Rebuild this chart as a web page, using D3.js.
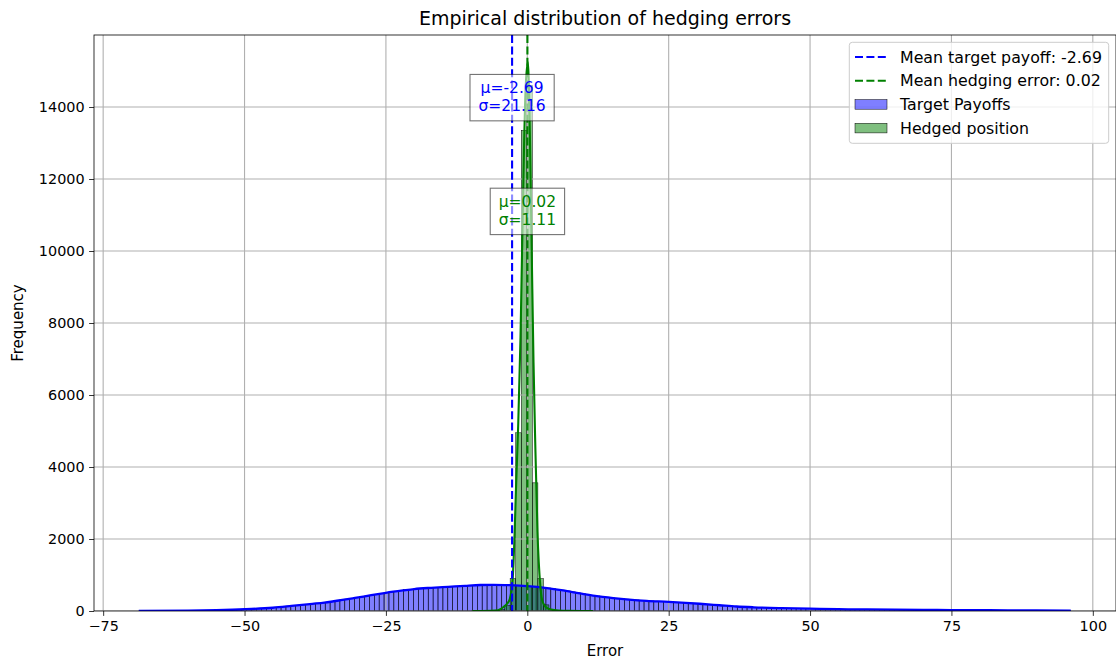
<!DOCTYPE html>
<html>
<head>
<meta charset="utf-8">
<script src="https://cdn.jsdelivr.net/npm/d3@7"></script>
<style>
  body { margin: 0; background: #fff; }
  svg { display: block; }
  text { font-family: "DejaVu Sans", sans-serif; }
</style>
</head>
<body>
<svg id="chart" width="1116" height="663"></svg>
<script>
// ---- data ----
const xTicks = [-75, -50, -25, 0, 25, 50, 75, 100];
const yTicks = [0, 2000, 4000, 6000, 8000, 10000, 12000, 14000];

// Target payoff histogram (equal-width bins starting at blueBinStart)
const blueBinStart = -68.7;
const blueBinWidth = 0.8674;
const blueCounts = [
  2, 1, 3, 2, 4, 3, 5, 6, 7, 9,
  10, 12, 13, 16, 18, 21, 24, 28, 32, 37,
  42, 48, 54, 60, 67, 75, 84, 93, 104, 114,
  135, 145, 158, 170, 183, 198, 212, 226, 241, 258,
  292, 310, 330, 350, 370, 392, 414, 436, 458, 480,
  505, 527, 546, 563, 600, 598, 612, 624, 645, 643,
  650, 656, 662, 668, 676, 684, 692, 700, 708, 715,
  722, 726, 728, 727, 724, 719, 713, 706, 698, 690,
  680, 668, 654, 638, 620, 600, 578, 556, 530, 505,
  482, 458, 436, 417, 400, 385, 368, 354, 341, 329,
  318, 308, 298, 289, 281, 274, 267, 260, 252, 244,
  236, 227, 218, 208, 198, 188, 177, 166, 155, 144,
  134, 125, 117, 110, 104, 99, 94, 90, 86, 83,
  80, 77, 74, 71, 68, 65, 62, 60, 58, 56,
  54, 52, 50, 48, 46, 45, 43, 42, 41, 40,
  38, 37, 36, 35, 34, 33, 33, 32, 31, 30,
  30, 29, 28, 28, 27, 26, 26, 25, 25, 24,
  23, 23, 22, 22, 21, 21, 20, 20, 19, 19,
  18, 18, 17, 17, 16, 16, 15, 15, 14, 14
];

// Hedged position histogram
const greenBinStart = -9.89;
const greenBinWidth = 0.98;
const greenCounts = [
  1, 2, 3, 6, 15, 40, 150, 900, 4950, 13350, 14600,
  3560, 900, 170, 45, 15, 7, 4, 3, 2, 1, 1
];

// Density curves, scaled to counts: [error, frequency]
const blueKde = [
  [-68.7, 3], [-60, 12], [-55, 25], [-50, 48], [-45, 90], [-41.7, 140],
  [-38, 200], [-35.9, 235], [-33, 300], [-31.2, 345], [-29, 400],
  [-27.6, 440], [-25, 505], [-22, 570], [-20, 610], [-17, 645],
  [-14, 672], [-11, 700], [-8.3, 722], [-6, 728], [-3, 716], [0, 690],
  [3.5, 635], [6, 580], [9.3, 490], [12, 420], [15.2, 360], [18, 318],
  [21.1, 283], [25, 255], [28, 228], [31, 195], [34, 160], [37, 125],
  [40, 103], [45, 80], [50, 64], [55, 51], [60, 43], [65, 36], [70, 31],
  [75, 27], [80, 23], [85, 20], [90, 17], [96.1, 13]
];
const greenKde = [
  [-9.7, 1], [-8, 2], [-6.5, 6], [-5.2, 20], [-4.2, 110], [-3.6, 200],
  [-3.1, 330], [-2.6, 860], [-2.24, 2170], [-2.0, 3400], [-1.6, 5200],
  [-1.2, 7600], [-0.9, 10200], [-0.6, 12700], [-0.3, 14500], [0.1, 15250],
  [0.45, 13300], [0.8, 9800], [1.1, 6900], [1.4, 4700], [1.8, 2200],
  [2.3, 700], [2.6, 320], [3.2, 120], [4.2, 40], [5.5, 12], [7.5, 4],
  [9.5, 2], [11.6, 1]
];

const meanTarget = -2.69, sdTarget = 21.16;
const meanHedge = 0.02, sdHedge = 1.11;

const legendItems = [
  { kind: "line", color: "blue", label: "Mean target payoff: -2.69" },
  { kind: "line", color: "green", label: "Mean hedging error: 0.02" },
  { kind: "patch", color: "blue", label: "Target Payoffs" },
  { kind: "patch", color: "green", label: "Hedged position" }
];

// ---- layout ----
const plot = { left: 94, right: 1116, top: 35, bottom: 611 };
const svg = d3.select("#chart");

const x = d3.scaleLinear().domain([-76.62, 104.1]).range([plot.left, plot.right]);
const y = d3.scaleLinear().domain([0, 16000]).range([plot.bottom, plot.top]);

svg.append("defs").append("clipPath").attr("id", "clip")
  .append("rect")
  .attr("x", plot.left).attr("y", plot.top)
  .attr("width", plot.right - plot.left).attr("height", plot.bottom - plot.top);

const body = svg.append("g").attr("clip-path", "url(#clip)");

function bins(start, width, counts) {
  return counts.map((c, i) => ({ x0: start + i * width, x1: start + (i + 1) * width, c }));
}

// histogram bars
function drawBars(data, color) {
  body.append("g").selectAll("rect").data(data).join("rect")
    .attr("x", d => x(d.x0))
    .attr("width", d => x(d.x1) - x(d.x0))
    .attr("y", d => y(d.c))
    .attr("height", d => y(0) - y(d.c))
    .attr("fill", color).attr("fill-opacity", 0.5)
    .attr("stroke", "#000").attr("stroke-width", 0.5);
}
drawBars(bins(blueBinStart, blueBinWidth, blueCounts), "blue");
drawBars(bins(greenBinStart, greenBinWidth, greenCounts), "green");

// grid
const grid = body.append("g").attr("stroke", "#b0b0b0").attr("stroke-width", 1.1);
grid.selectAll("line.v").data(xTicks).join("line")
  .attr("x1", d => x(d)).attr("x2", d => x(d))
  .attr("y1", plot.top).attr("y2", plot.bottom);
grid.selectAll("line.h").data(yTicks).join("line")
  .attr("y1", d => y(d)).attr("y2", d => y(d))
  .attr("x1", plot.left).attr("x2", plot.right);

// density curves
const line = d3.line().x(d => x(d[0])).y(d => y(d[1])).curve(d3.curveMonotoneX);
body.append("path").datum(blueKde).attr("d", line)
  .attr("fill", "none").attr("stroke", "blue").attr("stroke-width", 2.3);
body.append("path").datum(greenKde).attr("d", line)
  .attr("fill", "none").attr("stroke", "green").attr("stroke-width", 2.1);

// mean lines
[[meanTarget, "blue"], [meanHedge, "green"]].forEach(([m, c]) => {
  body.append("line")
    .attr("x1", x(m)).attr("x2", x(m))
    .attr("y1", plot.top).attr("y2", plot.bottom)
    .attr("stroke", c).attr("stroke-width", 2.1)
    .attr("stroke-dasharray", "8,3.4");
});

// spines and ticks
const axes = svg.append("g").attr("stroke", "#000").attr("stroke-width", 0.8);
axes.append("rect")
  .attr("x", plot.left).attr("y", plot.top)
  .attr("width", plot.right - plot.left).attr("height", plot.bottom - plot.top)
  .attr("fill", "none");

const xAxis = d3.axisBottom(x).tickValues(xTicks).tickSize(4.9).tickPadding(4.5)
  .tickFormat(d => d < 0 ? "\u2212" + Math.abs(d) : String(d));
const gx = svg.append("g").attr("transform", `translate(0,${plot.bottom})`).call(xAxis);
const yAxis = d3.axisLeft(y).tickValues(yTicks).tickSize(4.9).tickPadding(4.5)
  .tickFormat(d => String(d));
const gy = svg.append("g").attr("transform", `translate(${plot.left},0)`).call(yAxis);
[gx, gy].forEach(g => {
  g.select(".domain").remove();
  g.selectAll(".tick line").attr("stroke", "#000").attr("stroke-width", 0.8);
  g.selectAll(".tick text").attr("fill", "#000")
    .style("font-family", "'DejaVu Sans', sans-serif").style("font-size", "14.4px");
});

// titles
svg.append("text").attr("x", (plot.left + plot.right) / 2).attr("y", 25)
  .attr("text-anchor", "middle").style("font-size", "19px").text("Empirical distribution of hedging errors");
svg.append("text").attr("x", (plot.left + plot.right) / 2).attr("y", 656)
  .attr("text-anchor", "middle").style("font-size", "15px").text("Error");
svg.append("text").attr("transform", `translate(22.5,${(plot.top + plot.bottom) / 2}) rotate(-90)`)
  .attr("text-anchor", "middle").style("font-size", "15px").text("Frequency");

// annotation boxes with mean and standard deviation
function statBox(cx, cyVal, color, lines) {
  const cy = y(cyVal);
  const g = svg.append("g");
  const rect = g.append("rect");
  const t = g.append("text").attr("text-anchor", "middle").attr("fill", color)
    .style("font-size", "15.5px");
  lines.forEach((s, i) => {
    t.append("tspan").attr("x", cx).attr("y", cy + (i - 0.5) * 17.7 + 4.6).text(s);
  });
  const bb = t.node().getBBox();
  rect.attr("x", bb.x - 8.5).attr("y", cy - 23.2)
    .attr("width", bb.width + 17).attr("height", 46.4)
    .attr("fill", "#fff").attr("fill-opacity", 0.55)
    .attr("stroke", "#000").attr("stroke-opacity", 0.55).attr("stroke-width", 1.1);
}
statBox(x(meanTarget), 14260, "blue", [`\u03bc=${meanTarget.toFixed(2)}`, `\u03c3=${sdTarget.toFixed(2)}`]);
statBox(x(meanHedge), 11100, "green", [`\u03bc=${meanHedge.toFixed(2)}`, `\u03c3=${sdHedge.toFixed(2)}`]);

// legend
const lg = svg.append("g");
lg.append("rect").attr("x", 849.3).attr("y", 42.3).attr("width", 259.4).attr("height", 101)
  .attr("rx", 3).attr("fill", "#fff").attr("fill-opacity", 0.8)
  .attr("stroke", "#ccc").attr("stroke-width", 1);
legendItems.forEach((d, i) => {
  const cy = 57 + i * 23.7;
  if (d.kind === "line") {
    lg.append("line").attr("x1", 855).attr("x2", 888).attr("y1", cy).attr("y2", cy)
      .attr("stroke", d.color).attr("stroke-width", 2.1).attr("stroke-dasharray", "8,3.4");
  } else {
    lg.append("rect").attr("x", 855).attr("y", cy - 4.8).attr("width", 32).attr("height", 9.6)
      .attr("fill", d.color).attr("fill-opacity", 0.5)
      .attr("stroke", "#000").attr("stroke-width", 0.5);
  }
  lg.append("text").attr("x", 900).attr("y", cy + 5.5).style("font-size", "15.8px")
    .attr("fill", "#000").text(d.label);
});
</script>
</body>
</html>
